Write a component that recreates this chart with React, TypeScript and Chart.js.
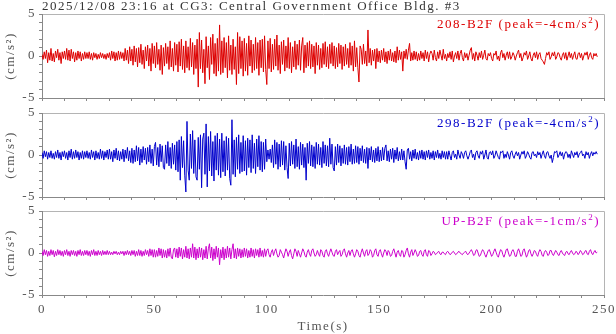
import { useEffect, useRef } from "react";
import { Chart, registerables } from "chart.js";

Chart.register(...registerables);

// ---------------- text & data ----------------
const TITLE = "2025/12/08 23:16 at CG3: Central Government Office Bldg. #3";
const X_AXIS_TITLE = "Time(s)";
const Y_AXIS_TITLE = "(cm/s²)";
const CHANNELS = ["208-B2F", "298-B2F", "UP-B2F"];
const PEAKS = ["-4", "-4", "-1"];
const X_MIN = 0;
const X_MAX = 250;
const X_STEP = 10;
const X_LABEL_EVERY = 50;
const Y_MIN = -5;
const Y_MAX = 5;
const Y_STEP = 1;
const Y_LABEL_EVERY = 5;
const SAMPLE_STEP = 0.5; // seconds between samples

// acceleration (cm/s^2), one row per 10 s
const ACC_208 = [
  0.2, -0.4, 0.5, -0.3, 0.7, -0.8, 0.4, -0.5, 0.9, -0.6, 0.3, -0.7, 0.6, -0.2, 0.8, -0.5, 0.4, -0.9, 0.5, -0.3,
  0.6, -0.4, 0.9, -0.5, 0.7, -0.6, 0.8, -0.3, 0.5, -0.7, 0.4, -0.5, 0.6, -0.3, 0.5, -0.6, 0.3, -0.4, 0.5, -0.3,
  0.4, -0.3, 0.5, -0.4, 0.3, -0.5, 0.4, -0.2, 0.3, -0.4, 0.2, -0.3, 0.4, -0.2, 0.3, -0.3, 0.2, -0.4, 0.3, -0.2,
  0.4, -0.5, 0.6, -0.3, 0.5, -0.6, 0.4, -0.5, 0.6, -0.4, 0.5, -0.3, 0.4, -0.6, 0.9, -0.5, 0.7, -0.9, 1.1, -0.6,
  0.8, -1.1, 1.2, -0.7, 0.9, -1.3, 1.0, -0.8, 1.4, -1.0, 0.7, -1.5, 1.1, -0.6, 1.3, -1.2, 0.9, -1.8, 1.5, -0.9,
  1.2, -1.4, 1.6, -1.0, 0.8, -1.7, 1.3, -2.2, 1.0, -1.2, 1.5, -0.9, 1.1, -1.6, 1.8, -1.3, 0.9, -1.8, 1.6, -1.1,
  1.4, -1.9, 1.7, -1.2, 2.0, -1.6, 1.2, -2.0, 1.8, -1.4, 1.1, -1.7, 2.1, -1.3, 1.6, -2.2, 1.3, -1.5, 2.0, -3.7,
  2.8, -1.5, 1.9, -2.0, 0.8, -3.3, 2.3, -1.4, 1.2, -2.8, 2.2, -1.0, 2.6, -2.1, 1.5, -2.4, 2.1, -1.8, 3.7, -2.2,
  1.8, -2.0, 2.2, -1.4, 1.6, -2.6, 2.4, -1.7, 1.3, -2.2, 2.0, -1.6, 1.1, -3.4, 2.8, -2.1, 2.3, -1.5, 1.8, -2.4,
  2.1, -1.8, 1.5, -2.3, 2.4, -1.2, 1.9, -2.0, 1.4, -1.7, 2.2, -1.5, 1.6, -2.3, 1.9, -1.4, 2.0, -1.9, 2.4, -1.6,
  -3.4, 1.8, -1.5, 2.1, -1.9, 1.4, -1.6, 2.0, -1.2, 2.5, -1.7, 1.3, -2.1, 1.7, -1.0, 1.9, -1.8, 1.2, -1.4, 2.2,
  -1.5, 1.6, -2.0, 1.1, -1.3, 1.8, -1.6, 1.4, -1.1, 1.9, -1.7, 1.2, 2.2, -2.0, 1.3, -1.4, 1.6, -1.2, 1.8, -1.5,
  1.4, -1.3, 1.2, -2.1, 1.6, -1.1, 1.3, -1.6, 0.9, -1.4, 1.5, -1.0, 1.7, -1.3, 1.1, -1.5, 1.4, -0.9, 1.6, -1.2,
  1.2, -1.5, 1.0, -1.3, 1.5, -0.9, 1.3, -1.6, 1.1, -1.2, 1.4, -1.0, 0.9, -1.4, 1.6, -1.1, 1.2, -1.8, 1.8, -1.3,
  1.0, -1.4, -3.1, 1.2, 0.8, -1.0, 1.4, -0.9, 0.6, -1.2, 3.1, -0.8, 0.9, -1.1, 0.7, -0.6, 0.8, -1.5, 0.9, -0.7,
  0.6, -0.8, 0.7, -0.5, 0.9, -0.7, 0.5, -0.9, 0.6, -0.5, 0.8, -0.6, 0.4, -0.7, 0.6, -0.8, 1.1, -0.5, 0.7, -0.4,
  0.5, -1.8, 0.6, -0.3, 0.8, -0.4, 0.7, 1.5, -0.6, 0.4, -0.5, 0.6, -0.4, 0.5, -0.6, 0.3, -0.5, 0.6, -0.3, 0.4,
  -0.6, 0.7, -0.3, 0.5, -0.7, 0.2, 0.6, 0.3, -0.5, 0.7, -0.2, -0.6, 0.5, -0.3, 0.7, 0.1, -0.5, 0.8, -0.3, 0.2,
  -0.6, 0.3, -0.2, 0.5, -0.4, 0.6, -0.7, 0.0, 0.4, -0.3, 0.6, -0.5, 0.3, 0.7, -0.2, -0.6, 0.4, -0.2, 0.3, -0.5,
  0.1, 0.7, 1.0, -0.4, 0.3, -0.6, 0.5, 0.1, -0.5, 0.4, -0.2, 0.6, -0.4, 0.1, 0.7, -0.3, -0.5, 0.3, 0.0, 0.4,
  -0.3, -0.6, 0.3, 0.1, 0.6, -0.4, 0.0, -0.6, 0.4, 0.7, -0.2, 0.3, -0.5, 0.1, 0.5, -0.3, 0.5, -0.4, -0.1, 0.4,
  0.1, -0.5, 0.0, 0.4, 0.7, -0.2, 0.3, -0.6, -0.2, 0.4, 0.1, 0.6, -0.4, 0.0, 0.5, -0.3, -0.6, 0.1, 0.4, -0.2,
  0.5, -0.4, 0.2, 0.4, -0.3, -0.5, -0.7, -1.0, -0.3, 0.4, 0.1, 0.5, -0.4, -0.1, 0.4, 0.0, 0.5, -0.4, -0.1, 0.4,
  0.3, -0.2, -0.5, 0.1, 0.4, -0.3, 0.4, -0.5, 0.0, 0.5, -0.2, 0.3, -0.4, 0.1, 0.5, -0.3, -0.4, 0.3, 0.4, -0.2,
  0.3, -0.5, 0.0, 0.4, 0.1, 0.5, -0.4, 0.1, 0.4, -0.2, -0.4, 0.3, 0.0, 0.3, -0.1,
];

const ACC_298 = [
  0.3, -0.4, 0.5, -0.2, 0.4, -0.5, 0.3, -0.3, 0.5, -0.4, 0.2, -0.5, 0.4, -0.3, 0.6, -0.4, 0.3, -0.6, 0.4, -0.2,
  0.5, -0.4, 0.3, -0.6, 0.5, -0.3, 0.7, -0.5, 0.4, -0.4, 0.6, -0.3, 0.4, -0.6, 0.3, -0.4, 0.5, -0.5, 0.4, -0.3,
  0.5, -0.4, 0.3, -0.5, 0.6, -0.3, 0.4, -0.6, 0.5, -0.4, 0.3, -0.5, 0.7, -0.4, 0.5, -0.6, 0.4, -0.3, 0.6, -0.5,
  0.7, -0.5, 0.4, -0.8, 0.6, -0.4, 0.8, -0.6, 0.5, -0.7, 0.4, -0.5, 0.7, -0.8, 0.6, -0.4, 0.9, -0.7, 0.5, -0.9,
  0.8, -1.0, 0.6, -0.8, 1.1, -0.7, 0.9, -1.2, 0.7, -0.9, 1.0, -0.6, 0.8, -1.1, 0.9, -0.8, 1.2, -1.0, 0.7, -1.3,
  1.0, 1.5, -1.2, 0.9, -1.4, 1.3, -0.8, 1.1, -1.5, -1.7, 1.2, -1.0, 1.6, -1.3, 0.9, -1.6, 1.4, -1.1, 1.2, -1.8,
  1.6, -2.0, 1.8, -3.0, 2.2, -1.5, 1.7, -2.4, -4.4, 4.0, -1.8, -3.0, 2.5, -1.6, 2.9, -2.2, 1.8, -2.6, -3.0, 2.1,
  -1.7, 2.4, -3.9, 1.9, 2.6, -2.3, 3.7, -3.8, 2.2, -1.9, 2.8, -2.5, 1.6, -3.1, 2.3, -1.8, 2.6, -2.4, 1.9, -2.7,
  2.6, -2.0, 1.7, -2.5, 2.2, -1.8, 2.0, -2.8, -3.6, 4.2, -2.3, 1.8, -2.6, 2.1, -1.7, 2.4, -2.2, 1.5, -2.0, 2.3,
  -1.9, 1.7, -2.4, 2.0, -1.5, 1.8, -2.1, 2.4, -1.6, 1.4, -2.2, 1.9, -1.4, 2.3, -1.8, 1.6, -2.0, 1.5, -1.7, 1.9,
  -0.8, 0.6, -0.5, 0.7, -0.9, 1.2, -1.5, 1.8, -1.1, 1.5, -1.7, 1.3, -1.4, 1.7, -1.2, 1.6, -1.8, 1.1, -1.5, -2.8,
  1.4, -1.3, 1.6, -1.1, 1.2, -1.6, 1.9, -1.4, 1.0, -1.7, 1.5, -1.2, 1.3, -1.5, 0.9, -3.0, 1.4, -1.0, 1.6, -1.3,
  1.2, -1.4, 1.0, -1.6, 1.5, -1.1, 1.3, -1.2, 0.9, -1.5, 1.6, -1.0, 1.2, -1.3, 1.1, -1.4, 2.0, -1.1, 1.3, -1.5,
  -1.9, 1.0, -1.2, 1.3, -0.9, 1.1, -1.3, 0.8, -1.0, 1.2, -1.1, 0.9, -1.2, 1.0, -0.8, 1.3, -1.1, 0.7, -1.0, 1.1,
  -0.9, 1.0, -1.1, 0.8, -0.7, 1.1, -0.9, 0.7, -1.0, 0.9, -1.6, 0.8, -0.6, 1.0, -0.8, 0.6, -0.9, 0.8, -0.7, 1.0,
  -0.8, 0.6, -0.7, 0.9, -0.6, 0.8, 1.2, -0.7, 0.5, -0.8, 0.7, -0.5, 0.8, -0.9, 0.6, -0.5, 0.9, -0.7, 0.4, -0.6,
  0.7, -0.6, 0.5, -0.8, -1.7, 0.6, 0.8, -0.5, 0.4, -0.7, 0.6, -0.4, 0.7, -0.5, 0.3, -0.6, 0.5, -0.4, 0.6, -0.5,
  0.4, -0.6, 0.5, -0.3, 0.6, -0.5, 0.3, -0.4, 0.5, -0.6, 0.4, -0.3, 0.6, -0.4, 0.2, -0.5, 0.5, -0.3, 0.4, -0.5,
  0.4, -0.5, 0.5, -0.1, -0.6, 0.3, 0.5, -0.3, 0.1, -0.5, 0.6, 0.0, -0.4, 0.4, 0.1, -0.4, 0.3, 0.5, -0.1, -0.5,
  -0.1, 0.4, 0.6, -0.3, 0.1, -0.6, 0.3, 0.5, -0.1, -0.4, 0.4, 0.1, 0.5, -0.5, 0.0, 0.6, -0.3, -0.5, 0.3, 0.4,
  0.0, 0.5, -0.4, -0.1, 0.5, 0.1, -0.3, -0.5, 0.4, 0.3, 0.5, -0.4, 0.1, -0.3, 0.4, 0.0, -0.5, 0.3, 0.5, -0.1,
  -0.4, 0.1, 0.4, -0.1, 0.3, -0.5, 0.0, 0.4, 0.1, 0.5, -0.4, -0.1, 0.4, 0.1, -0.3, -0.5, 0.3, 0.4, -0.1, 0.1,
  -0.3, 0.4, 0.0, 0.3, -0.4, 0.1, 0.5, -0.1, -0.4, 0.3, 0.4, -0.1, -0.4, 0.0, -0.9, -0.3, 0.4, 0.3, 0.5, -0.3,
  0.0, 0.4, -0.1, 0.3, -0.5, 0.1, 0.4, 0.3, -0.3, 0.1, -0.4, 0.5, 0.1, -0.3, 0.3, 0.0, 0.4, -0.3, 0.1, 0.3,
  0.5, -0.1, 0.1, -0.4, 0.4, 0.0, 0.3, -0.4, 0.1, 0.4, -0.1, 0.3, 0.1, 0.4, 0.1,
];

const ACC_UP = [
  0.2, -0.3, 0.4, -0.2, 0.3, -0.4, 0.2, -0.3, 0.4, -0.2, 0.3, -0.45, 0.2, -0.3, 0.4, -0.2, 0.3, -0.3, 0.2, -0.4,
  0.3, -0.2, 0.4, -0.3, 0.2, -0.4, 0.3, -0.2, 0.3, -0.3, 0.2, -0.4, 0.3, -0.2, 0.4, -0.3, 0.2, -0.3, 0.3, -0.2,
  0.3, -0.3, 0.2, -0.4, 0.3, -0.2, 0.4, -0.3, 0.2, -0.3, 0.3, -0.2, 0.2, -0.3, 0.3, -0.2, 0.2, -0.2, 0.3, -0.2,
  0.2, -0.2, 0.1, -0.2, 0.2, -0.1, 0.2, -0.2, 0.1, -0.2, 0.2, -0.1, 0.2, -0.3, 0.2, -0.2, 0.3, -0.2, 0.2, -0.3,
  0.3, -0.2, 0.3, -0.4, 0.2, -0.3, 0.4, -0.3, 0.3, -0.4, 0.2, -0.3, 0.4, -0.2, 0.3, -0.4, 0.5, -0.3, 0.4, -0.5,
  0.4, -0.5, 0.3, -0.4, 0.6, -0.3, 0.5, -0.6, 0.4, -0.5, 0.3, -0.6, 0.5, -0.4, 0.6, -0.5, -0.7, 0.4, 0.6, -0.5,
  0.5, -0.6, 0.7, -0.4, 0.6, -0.7, 0.4, -0.5, 0.8, -0.6, 0.5, -0.7, 0.6, -0.5, 1.1, -0.6, 0.7, -0.8, 0.5, -0.6,
  0.7, -0.5, 0.6, -0.8, 0.4, -0.6, 0.8, -0.7, 0.5, 1.1, -0.6, 0.7, -0.9, 0.5, -0.7, 0.8, -0.5, 0.6, -1.4, 0.4,
  -0.6, 0.7, -0.8, 0.5, -0.6, 0.8, -0.5, 0.6, -0.7, 0.4, 1.1, -0.6, 0.5, -0.7, 0.6, -0.4, 0.5, -0.6, 0.4, -0.5,
  0.6, -0.4, 0.5, -0.6, 0.3, -0.5, 0.6, -0.4, 0.4, -0.6, 0.5, -0.3, 0.4, -0.5, 0.6, -0.4, 0.3, -0.5, 0.5, -0.4,
  0.3, 0.5, -0.2, -0.5, 0.1, 0.4, -0.3, 0.2, 0.5, -0.1, -0.5, -0.3, 0.4, 0.1, -0.2, -0.6, 0.0, 0.5, 0.2, -0.4,
  0.1, 0.4, -0.3, -0.7, -0.1, 0.5, 0.2, -0.4, 0.3, -0.1, -0.5, 0.0, 0.5, 0.2, -0.3, -0.5, 0.1, 0.4, -0.1, -0.4,
  0.3, 0.5, 0.0, -0.4, -0.2, 0.3, -0.1, -0.4, 0.4, 0.2, -0.3, -0.5, 0.2, 0.4, -0.1, -0.4, 0.1, 0.5, 0.1, -0.3,
  -0.4, 0.2, 0.4, -0.2, 0.1, 0.3, -0.4, -0.2, 0.3, 0.5, -0.1, -0.5, 0.0, 0.3, -0.3, 0.2, 0.4, -0.1, -0.5, -0.1,
  0.4, 0.2, -0.3, -0.5, 0.1, 0.5, 0.0, -0.4, 0.2, 0.4, -0.3, -0.1, 0.4, 0.2, -0.5, -0.3, 0.3, 0.5, -0.2, -0.4,
  0.2, 0.4, -0.1, -0.5, 0.0, 0.4, 0.2, -0.3, 0.3, 0.1, -0.4, -0.3, 0.2, 0.5, 0.0, -0.5, 0.1, 0.3, -0.2, -0.4,
  0.3, 0.2, -0.5, -0.2, 0.3, 0.6, -0.1, -0.5, 0.1, 0.4, -0.3, 0.0, 0.4, 0.1, -0.4, -0.3, 0.2, 0.3, -0.2, -0.4,
  0.2, 0.4, -0.2, -0.4, 0.3, 0.2, -0.3, -0.1, 0.2, 0.1, -0.2, -0.1, 0.1, 0.2, -0.1, -0.2, 0.1, 0.1, -0.1, -0.2,
  0.1, 0.2, 0.0, -0.2, -0.1, 0.1, 0.2, 0.0, -0.2, -0.1, 0.1, 0.2, 0.0, -0.1, -0.2, 0.0, 0.1, 0.2, -0.1, -0.2,
  0.0, 0.2, 0.4, 0.1, -0.3, -0.2, 0.3, 0.4, 0.0, -0.4, -0.3, 0.1, 0.4, 0.2, -0.2, -0.5, -0.1, 0.3, 0.4, 0.0,
  -0.4, -0.2, 0.2, 0.5, 0.1, -0.3, -0.5, 0.0, 0.4, 0.3, -0.2, -0.5, -0.1, 0.4, 0.5, 0.0, -0.4, -0.3, 0.2, 0.4,
  0.1, -0.4, -0.4, 0.2, 0.5, 0.1, -0.4, -0.3, 0.3, 0.5, 0.0, -0.5, -0.2, 0.3, 0.4, -0.1, -0.4, -0.1, 0.3, 0.2,
  -0.2, -0.4, 0.1, 0.4, 0.2, -0.3, -0.4, 0.1, 0.3, 0.1, -0.3, -0.2, 0.3, 0.3, -0.1, -0.3, 0.0, 0.3, 0.1, -0.2,
  -0.3, 0.1, 0.3, 0.0, -0.2, -0.3, 0.1, 0.2, -0.1, -0.2, 0.1, 0.3, 0.0, -0.2, -0.1, 0.2, 0.1, -0.2, 0.0, 0.3,
  0.1, -0.2, -0.1, 0.2, 0.3, -0.1, -0.2, 0.2, 0.4, 0.0, -0.2, 0.1, 0.3, 0.0, 0.1,
];

const SERIES = [ACC_208, ACC_298, ACC_UP];

// ---------------- layout & style ----------------
const W = 616;
const H = 334;
const PLOT_LEFT = 42;
const PLOT_RIGHT = 604;
const X_AXIS_H = 20;
const PANELS = [
  { top: 14, bottom: 98 },
  { top: 113, bottom: 197 },
  { top: 211, bottom: 295 },
];
const COLORS = ["#dd0000", "#0000cc", "#cc00cc"];
const FONT = "'Liberation Serif', 'Times New Roman', serif";
const FONT_SIZE = 13;
const LETTER_SPACING = "1.5px";
const AXIS_COLOR = "#888888";
const FRAME_COLOR = "#b4b4b4";
const TICK_TEXT = "#555555";
const TITLE_TEXT = "#333333";

function makeDecor(index: number) {
  return {
    id: "decor" + index,
    beforeDraw(chart: any) {
      chart.ctx.letterSpacing = LETTER_SPACING;
    },
    afterDraw(chart: any) {
      const ctx = chart.ctx as CanvasRenderingContext2D;
      const a = chart.chartArea;
      ctx.save();
      (ctx as any).letterSpacing = LETTER_SPACING;
      // top and right frame
      ctx.strokeStyle = FRAME_COLOR;
      ctx.lineWidth = 1;
      ctx.beginPath();
      ctx.moveTo(a.left + 1, a.top + 0.5);
      ctx.lineTo(a.right + 0.5, a.top + 0.5);
      ctx.lineTo(a.right + 0.5, a.bottom);
      ctx.stroke();

      // channel label with superscript
      const big = `${FONT_SIZE}px ${FONT}`;
      const small = `9px ${FONT}`;
      const main = `${CHANNELS[index]} (peak=${PEAKS[index]}cm/s`;
      const sup = "2";
      const tail = ")";
      ctx.textAlign = "left";
      ctx.textBaseline = "alphabetic";
      ctx.font = big;
      const wMain = ctx.measureText(main).width;
      const wTail = ctx.measureText(tail).width;
      ctx.font = small;
      const wSup = ctx.measureText(sup).width;
      const base = a.top + 14;
      let x = a.right - 4 - wTail - wSup - wMain;
      ctx.fillStyle = COLORS[index];
      ctx.font = big;
      ctx.fillText(main, x, base);
      x += wMain;
      ctx.font = small;
      ctx.fillText(sup, x, base - 5);
      x += wSup;
      ctx.font = big;
      ctx.fillText(tail, x, base);

      if (index === 0) {
        ctx.fillStyle = TITLE_TEXT;
        ctx.font = big;
        ctx.textAlign = "left";
        ctx.fillText(TITLE, a.left, a.top - 4);
      }
      if (index === PANELS.length - 1) {
        ctx.fillStyle = TICK_TEXT;
        ctx.font = big;
        ctx.textAlign = "center";
        ctx.fillText(X_AXIS_TITLE, (a.left + a.right) / 2, a.bottom + 35);
      }
      ctx.restore();
      chart.ctx.letterSpacing = "0px";
    },
  };
}

function makeConfig(index: number): any {
  const panel = PANELS[index];
  const values = SERIES[index];
  const showX = index === PANELS.length - 1;
  return {
    type: "line",
    data: {
      datasets: [
        {
          data: values.map((v, i) => ({ x: i * SAMPLE_STEP, y: v })),
          borderColor: COLORS[index],
          borderWidth: 1,
          pointRadius: 0,
          tension: 0,
          fill: false,
        },
      ],
    },
    options: {
      animation: false,
      responsive: false,
      events: [],
      layout: {
        padding: { left: 0, right: W - PLOT_RIGHT, top: panel.top, bottom: H - panel.bottom - X_AXIS_H },
      },
      plugins: { legend: { display: false }, tooltip: { enabled: false }, title: { display: false } },
      scales: {
        x: {
          type: "linear",
          min: X_MIN,
          max: X_MAX,
          afterFit: (s: any) => {
            s.height = X_AXIS_H;
            s.paddingLeft = 0;
            s.paddingRight = 0;
          },
          ticks: {
            stepSize: X_STEP,
            autoSkip: false,
            maxRotation: 0,
            padding: 4,
            color: TICK_TEXT,
            font: { family: FONT, size: FONT_SIZE },
            callback: (v: number) => (showX && v % X_LABEL_EVERY === 0 ? String(v) : ""),
          },
          grid: { drawOnChartArea: false, drawTicks: true, tickLength: 3, color: AXIS_COLOR },
          border: { display: true, color: AXIS_COLOR },
        },
        y: {
          type: "linear",
          min: Y_MIN,
          max: Y_MAX,
          afterFit: (s: any) => {
            s.width = PLOT_LEFT;
            s.paddingTop = 0;
            s.paddingBottom = 0;
          },
          ticks: {
            stepSize: Y_STEP,
            autoSkip: false,
            padding: 3,
            color: TICK_TEXT,
            font: { family: FONT, size: FONT_SIZE },
            callback: (v: number) => (Math.abs(v % Y_LABEL_EVERY) < 1e-9 ? String(v) : ""),
          },
          grid: { drawOnChartArea: false, drawTicks: true, tickLength: 3, color: AXIS_COLOR },
          border: { display: true, color: AXIS_COLOR },
          title: {
            display: true,
            text: Y_AXIS_TITLE,
            color: TICK_TEXT,
            font: { family: FONT, size: FONT_SIZE },
            padding: { top: 3, bottom: 0 },
          },
        },
      },
    },
    plugins: [makeDecor(index)],
  };
}

export default function App() {
  const r0 = useRef<HTMLCanvasElement>(null);
  const r1 = useRef<HTMLCanvasElement>(null);
  const r2 = useRef<HTMLCanvasElement>(null);
  const refs = [r0, r1, r2];

  useEffect(() => {
    const charts = refs.map((r, i) => new Chart(r.current as HTMLCanvasElement, makeConfig(i)));
    return () => charts.forEach((c) => c.destroy());
  }, []);

  return (
    <div style={{ position: "fixed", left: 0, top: 0, width: W, height: H, background: "#ffffff" }}>
      {refs.map((r, i) => (
        <canvas
          key={i}
          ref={r}
          width={W}
          height={H}
          style={{ position: "absolute", left: 0, top: 0, width: W, height: H }}
        />
      ))}
    </div>
  );
}
